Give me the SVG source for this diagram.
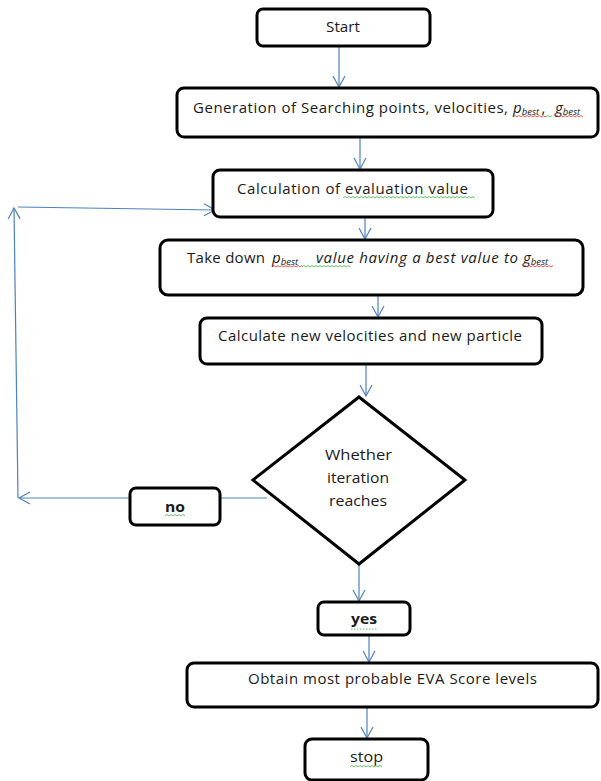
<svg xmlns="http://www.w3.org/2000/svg" width="601" height="781" viewBox="0 0 601 781">
<defs>
<style>
.box{fill:#fff;stroke:#000;stroke-width:3}
.t{font-family:"Open Sans","Liberation Sans",Arial,sans-serif;font-size:15px;fill:#1a1a1a}
.c{text-anchor:middle}
.b{font-weight:bold}
.i{font-style:italic}
.sub{font-size:9.5px;font-style:italic}
.con{fill:none;stroke:#4f81bd;stroke-width:1.2}
.sq-r{fill:none;stroke:#e03030;stroke-width:0.8}
.sq-g{fill:none;stroke:#3cb043;stroke-width:0.8}
</style>
<marker id="arr" markerWidth="14" markerHeight="14" refX="12" refY="7" orient="auto" markerUnits="userSpaceOnUse">
<path d="M1,1 L12,7 L1,13" fill="none" stroke="#4f81bd" stroke-width="1.2"/>
</marker>
</defs>
<rect width="601" height="781" fill="#fff"/>

<g id="connectors">
<line class="con" x1="339" y1="46" x2="339" y2="87" marker-end="url(#arr)"/>
<line class="con" x1="360" y1="137" x2="360" y2="169" marker-end="url(#arr)"/>
<line class="con" x1="365" y1="217" x2="365" y2="239" marker-end="url(#arr)"/>
<line class="con" x1="378" y1="295" x2="378" y2="317" marker-end="url(#arr)"/>
<line class="con" x1="366" y1="364" x2="366" y2="396" marker-end="url(#arr)"/>
<line class="con" x1="359" y1="564" x2="359" y2="601" marker-end="url(#arr)"/>
<line class="con" x1="369" y1="635" x2="369" y2="662" marker-end="url(#arr)"/>
<line class="con" x1="367" y1="707" x2="367" y2="738" marker-end="url(#arr)"/>
<line class="con" x1="267" y1="498" x2="19" y2="498" marker-end="url(#arr)"/>
<line class="con" x1="18" y1="498" x2="14" y2="208" marker-end="url(#arr)"/>
<line class="con" x1="18" y1="207" x2="215" y2="210" marker-end="url(#arr)"/>
</g>

<g id="start">
<rect class="box" x="257" y="9" width="173" height="37" rx="6"/>
<text class="t" x="326" y="32" textLength="34" lengthAdjust="spacingAndGlyphs">Start</text>
</g>

<g id="generation">
<rect class="box" x="177" y="88" width="421" height="49" rx="7"/>
<text class="t" x="193" y="113" textLength="315" lengthAdjust="spacing">Generation of Searching points, velocities,</text>
<text class="t" x="513" y="113"><tspan class="i">p</tspan><tspan class="sub" dy="2">best </tspan><tspan dy="-2">,</tspan></text>
<text class="t" x="555" y="113"><tspan class="i">g</tspan><tspan class="sub" dy="2">best</tspan></text>
<path class="sq-r" d="M513,117 l2,-1.5 l2,1.5 l2,-1.5 l2,1.5 l2,-1.5 l2,1.5 l2,-1.5 l2,1.5 l2,-1.5 l2,1.5 l2,-1.5 l2,1.5 l2,-1.5 l2,1.5 l2,-1.5 l2,1.5 l1,-1"/>
<path class="sq-g" d="M546,117 l2,-1.5 l2,1.5 l2,-1.5"/>
<path class="sq-r" d="M555,117 l2,-1.5 l2,1.5 l2,-1.5 l2,1.5 l2,-1.5 l2,1.5 l2,-1.5 l2,1.5 l2,-1.5 l2,1.5 l2,-1.5 l2,1.5 l2,-1.5 l2,1.5"/>
</g>

<g id="evaluation">
<rect class="box" x="213" y="170" width="280" height="47" rx="7"/>
<text class="t" x="237" y="194" textLength="231" lengthAdjust="spacing">Calculation of evaluation  value</text>
<path class="sq-g" d="M343,198 l2,-1.5 l2,1.5 l2,-1.5 l2,1.5 l2,-1.5 l2,1.5 l2,-1.5 l2,1.5 l2,-1.5 l2,1.5 l2,-1.5 l2,1.5 l2,-1.5 l2,1.5 l2,-1.5 l2,1.5 l2,-1.5 l2,1.5 l2,-1.5 l2,1.5 l2,-1.5 l2,1.5 l2,-1.5 l2,1.5 l2,-1.5 l2,1.5 l2,-1.5 l2,1.5 l2,-1.5 l2,1.5 l2,-1.5 l2,1.5 l2,-1.5 l2,1.5 l2,-1.5 l2,1.5 l2,-1.5 l2,1.5 l2,-1.5 l2,1.5 l2,-1.5 l2,1.5 l2,-1.5 l2,1.5 l2,-1.5 l2,1.5 l2,-1.5 l2,1.5 l2,-1.5 l2,1.5 l2,-1.5 l2,1.5 l2,-1.5 l2,1.5 l2,-1.5 l2,1.5 l2,-1.5 l2,1.5 l2,-1.5 l2,1.5 l2,-1.5 l2,1.5 l2,-1.5 l2,1.5 l2,-1.5 l2,1.5"/>
</g>

<g id="takedown">
<rect class="box" x="160" y="240" width="423" height="55" rx="8"/>
<text class="t" x="187" y="263" textLength="78" lengthAdjust="spacing">Take down</text>
<text class="t" x="272" y="263"><tspan class="i">p</tspan><tspan class="sub" dy="2">best</tspan></text>
<text class="t i" x="316" y="263" textLength="202" lengthAdjust="spacing">value  having a best value to</text>
<text class="t" x="523" y="263"><tspan class="i">g</tspan><tspan class="sub" dy="2">best</tspan></text>
<path class="sq-r" d="M272,267 l2,-1.5 l2,1.5 l2,-1.5 l2,1.5 l2,-1.5 l2,1.5 l2,-1.5 l2,1.5 l2,-1.5 l2,1.5 l2,-1.5 l2,1.5 l2,-1.5 l2,1.5 l2,-1.5"/>
<path class="sq-g" d="M302,267 l2,-1.5 l2,1.5 l2,-1.5 l2,1.5 l2,-1.5 l2,1.5 l2,-1.5 l2,1.5 l2,-1.5 l2,1.5 l2,-1.5 l2,1.5 l2,-1.5 l2,1.5 l2,-1.5 l2,1.5 l2,-1.5 l2,1.5 l2,-1.5 l2,1.5 l2,-1.5 l2,1.5 l2,-1.5 l2,1.5"/>
<path class="sq-r" d="M523,267 l2,-1.5 l2,1.5 l2,-1.5 l2,1.5 l2,-1.5 l2,1.5 l2,-1.5 l2,1.5 l2,-1.5 l2,1.5 l2,-1.5 l2,1.5 l2,-1.5 l2,1.5 l2,-1.5"/>
</g>

<g id="newvel">
<rect class="box" x="200" y="318" width="342" height="46" rx="7"/>
<text class="t" x="218" y="341" textLength="304" lengthAdjust="spacing">Calculate new velocities and new particle</text>
</g>

<g id="decision">
<polygon points="359,397 465,480 359,564 253,480" fill="#fff" stroke="#000" stroke-width="3" stroke-linejoin="miter"/>
<text class="t" x="325" y="460" textLength="67" lengthAdjust="spacingAndGlyphs">Whether</text>
<text class="t" x="327" y="483" textLength="62" lengthAdjust="spacingAndGlyphs">iteration</text>
<text class="t" x="329" y="506" textLength="58" lengthAdjust="spacingAndGlyphs">reaches</text>
</g>

<g id="no">
<rect class="box" x="130" y="488" width="90" height="37" rx="6"/>
<text class="t b" x="165" y="512" textLength="20" lengthAdjust="spacingAndGlyphs">no</text>
<path class="sq-g" d="M165,516 l2,-1.5 l2,1.5 l2,-1.5 l2,1.5 l2,-1.5 l2,1.5 l2,-1.5 l2,1.5 l2,-1.5 l2,1.5"/>
</g>

<g id="yes">
<rect class="box" x="318" y="602" width="92" height="33" rx="6"/>
<text class="t b" x="351" y="624" textLength="26" lengthAdjust="spacingAndGlyphs">yes</text>
<path class="sq-g" d="M351,629 l26,0" stroke-dasharray="1.5 1.5"/>
</g>

<g id="obtain">
<rect class="box" x="187" y="663" width="411" height="44" rx="7"/>
<text class="t" x="248" y="684" textLength="289" lengthAdjust="spacing">Obtain most probable EVA Score levels</text>
</g>

<g id="stop">
<rect class="box" x="305" y="739" width="123" height="41" rx="7"/>
<text class="t" x="350" y="762" textLength="33" lengthAdjust="spacingAndGlyphs">stop</text>
<path class="sq-g" d="M350,767 l2,-1.5 l2,1.5 l2,-1.5 l2,1.5 l2,-1.5 l2,1.5 l2,-1.5 l2,1.5 l2,-1.5 l2,1.5 l2,-1.5 l2,1.5 l2,-1.5 l2,1.5 l2,-1.5 l2,1.5"/>
</g>
</svg>
